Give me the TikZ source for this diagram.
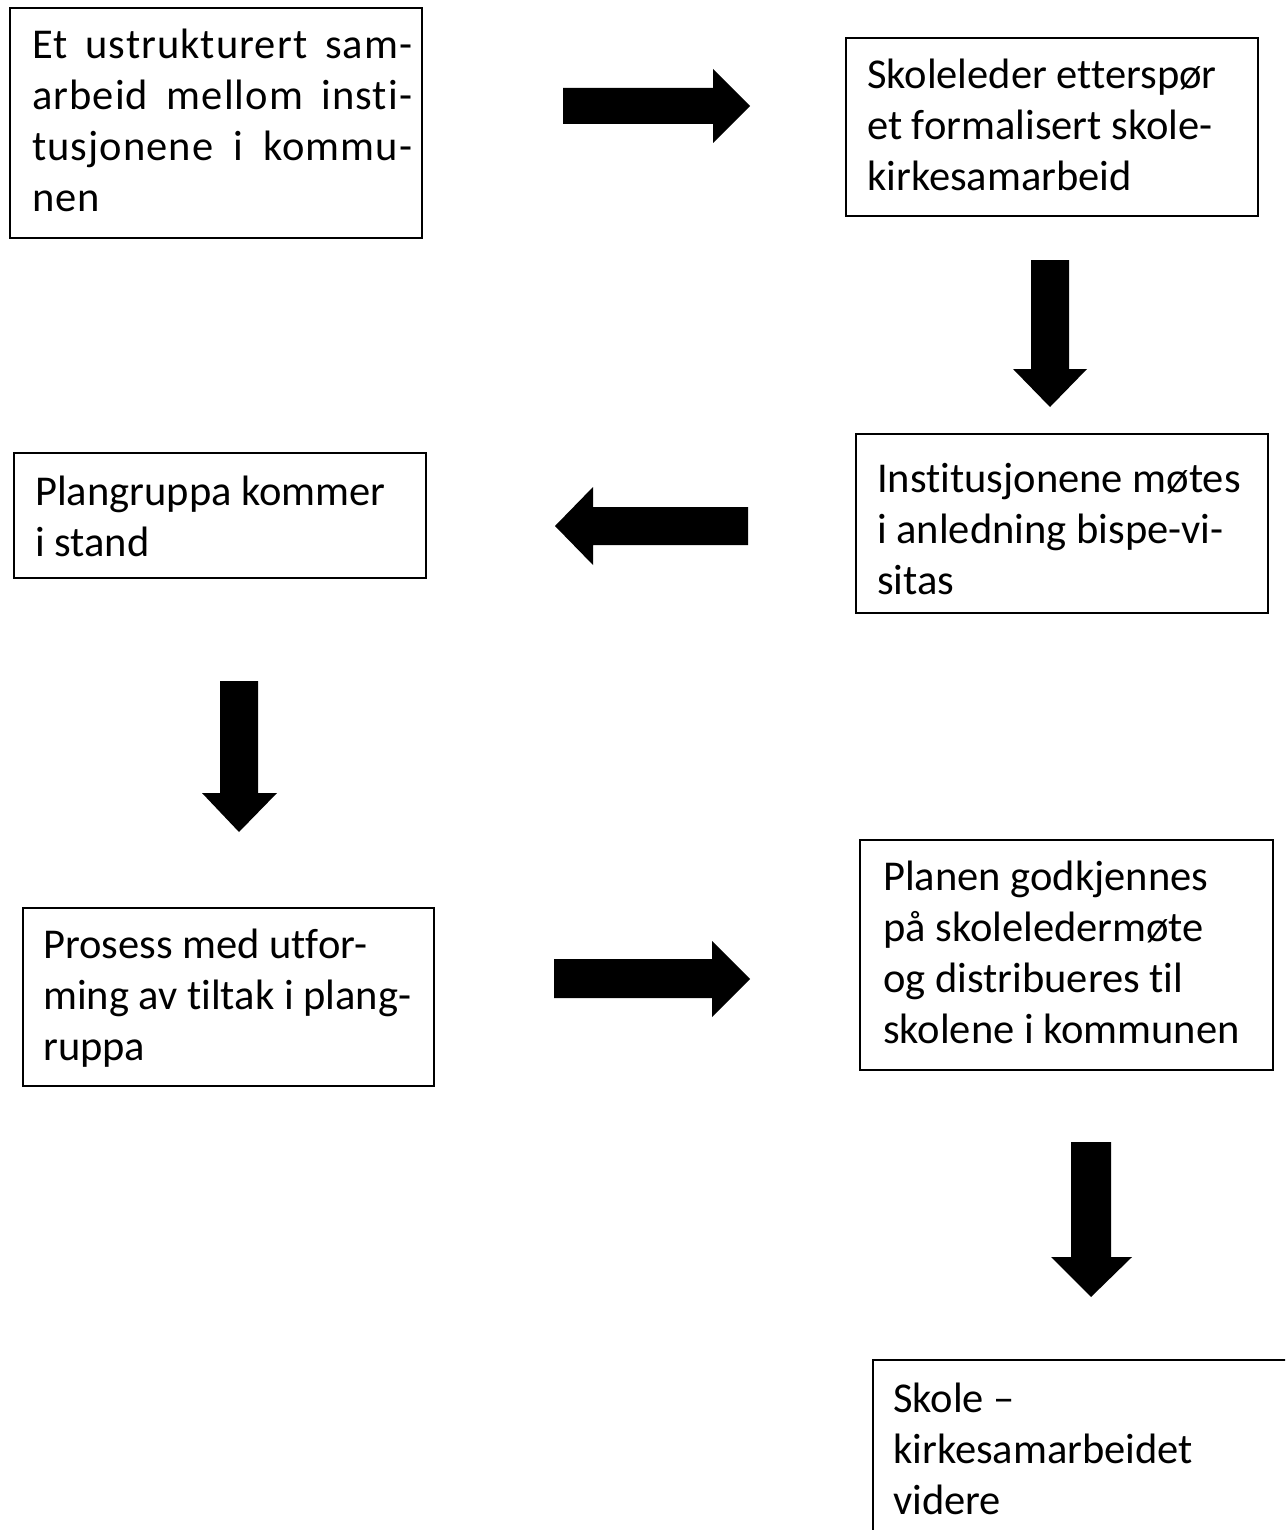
\documentclass[tikz,border=0pt]{standalone}
\usepackage{fontspec}
\setmainfont{Carlito}[Ligatures={CommonOff}]
\newfontfamily\widecarlito{Carlito}[Ligatures={CommonOff}, LetterSpace=2.5]
\usetikzlibrary{calc}
\begin{document}
\begin{tikzpicture}[x=1pt,y=-1pt,
  box/.style={draw=black, line width=1.6pt, fill=white, inner sep=0pt, anchor=north west, minimum width=412pt},
  txt/.style={anchor=base west, inner sep=0pt, font=\fontsize{42.5}{51}\selectfont},
  blk/.style={fill=black}]
\useasboundingbox (0,0) rectangle (1285,1530);
\clip (0,0) rectangle (1285,1530);
% boxes
\node[box, minimum height=230pt] (b1) at (9,7) {};
\node[box, minimum height=178pt] (b2) at (845,37) {};
\node[box, minimum height=125pt] (b3) at (13,452) {};
\node[box, minimum height=179pt] (b4) at (855,433) {};
\node[box, minimum width=411pt, minimum height=178pt] (b5) at (22,907) {};
\node[box, minimum width=413pt, minimum height=230pt] (b6) at (859,839) {};
\node[box, minimum width=440pt, minimum height=200pt] (b7) at (872,1359) {};
% texts
\node[txt] (t1) at ($(b1.north west)+(23,52)$) {\widecarlito\parbox[t]{400pt}{\makebox[380pt][s]{Et ustrukturert sam-}\\\makebox[380pt][s]{arbeid mellom insti-}\\\makebox[380pt][s]{tusjonene i kommu-}\\nen}};
\node[txt] (t2) at ($(b2.north west)+(22,52)$) {\parbox[t]{400pt}{Skoleleder etterspør\\et formalisert skole-\\kirkesamarbeid}};
\node[txt] (t3) at ($(b3.north west)+(22,53)$) {\parbox[t]{400pt}{Plangruppa kommer\\i stand}};
\node[txt] (t4) at ($(b4.north west)+(22,59)$) {\parbox[t]{400pt}{Institusjonene møtes\\i anledning bispe-vi-\\sitas}};
\node[txt] (t5) at ($(b5.north west)+(21,51)$) {\parbox[t]{400pt}{Prosess med utfor-\\ming av tiltak i plang-\\ruppa}};
\node[txt] (t6) at ($(b6.north west)+(24,51)$) {\parbox[t]{400pt}{Planen godkjennes\\på skoleledermøte\\og distribueres til\\skolene i kommunen}};
\node[txt] (t7) at ($(b7.north west)+(21,53)$) {\parbox[t]{400pt}{Skole –\\kirkesamarbeidet\\videre}};
% block arrows
\fill[blk] (563,88) -- (713,88) -- (713,69) -- (750,106) -- (713,143) -- (713,124) -- (563,124) -- cycle;
\fill[blk] (1031,260) -- (1069,260) -- (1069,369) -- (1087,369) -- (1050,407) -- (1013,369) -- (1031,369) -- cycle;
\fill[blk] (748,507) -- (593,507) -- (593,487) -- (555,526) -- (593,565) -- (593,545) -- (748,545) -- cycle;
\fill[blk] (220,681) -- (258,681) -- (258,793) -- (277,793) -- (239,832) -- (202,793) -- (220,793) -- cycle;
\fill[blk] (554,959) -- (712,959) -- (712,941) -- (750,979) -- (712,1017) -- (712,998) -- (554,998) -- cycle;
\fill[blk] (1071,1142) -- (1111,1142) -- (1111,1257) -- (1132,1257) -- (1091,1297) -- (1051,1257) -- (1071,1257) -- cycle;
\end{tikzpicture}
\end{document}
